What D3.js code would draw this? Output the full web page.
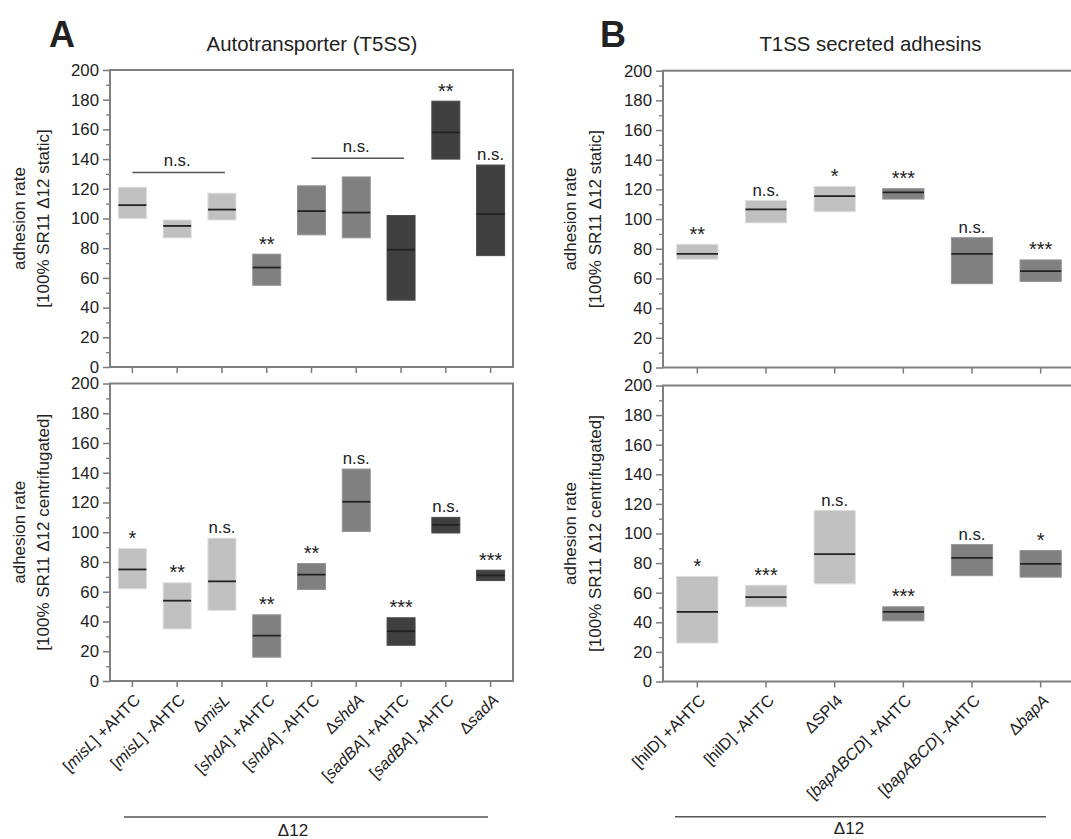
<!DOCTYPE html>
<html><head><meta charset="utf-8">
<script src="https://cdn.jsdelivr.net/npm/d3@7"></script>
<style>
body{margin:0;background:#fff}
text{font-family:"Liberation Sans",Arial,sans-serif;fill:#222}
</style>
</head><body>
<svg id="c" width="1071" height="839"></svg>
<script>
// ---------- data ----------
const catsA = ["[<i>misL</i>] +AHTC","[<i>misL</i>] -AHTC","Δ<i>misL</i>","[<i>shdA</i>] +AHTC","[<i>shdA</i>] -AHTC","Δ<i>shdA</i>","[<i>sadBA</i>] +AHTC","[<i>sadBA</i>] -AHTC","Δ<i>sadA</i>"];
const shadeA = ["light","light","light","mid","mid","mid","dark","dark","dark"];
const staticLoA  = [100, 87, 99, 55, 89, 87, 45, 140, 75];
const staticHiA  = [121, 99, 117, 76, 122, 128, 102, 179, 136];
const staticMedA = [109, 95, 106, 67, 105, 104, 79, 158, 103];
const staticSigA = ["", "", "", "**", "", "", "", "**", "n.s."];
const staticGroupsA = [{from:0, to:2, y:131, label:"n.s."}, {from:4, to:6, y:140.5, label:"n.s."}];
const centLoA  = [62, 35, 47.5, 16, 61.5, 100.5, 24, 99.5, 67.5];
const centHiA  = [89, 66, 96, 44.5, 79, 142.5, 42.5, 110, 74.5];
const centMedA = [75, 54, 67, 30.5, 71.5, 120.5, 33.5, 105, 71];
const centSigA = ["*", "**", "n.s.", "**", "**", "n.s.", "***", "n.s.", "***"];

const catsB = ["[hilD] +AHTC","[hilD] -AHTC","ΔSPI4","[<i>bapABCD</i>] +AHTC","[<i>bapABCD</i>] -AHTC","Δ<i>bapA</i>"];
const shadeB = ["light","light","light","mid","mid","mid"];
const staticLoB  = [73, 97.5, 105, 113.5, 56.5, 58];
const staticHiB  = [83, 112.5, 122, 120.5, 87.5, 72.5];
const staticMedB = [76.5, 106.5, 115.5, 118, 76.5, 65];
const staticSigB = ["**", "n.s.", "*", "***", "n.s.", "***"];
const centLoB  = [26, 50.5, 66, 41, 71.5, 70.5];
const centHiB  = [71, 65, 115.5, 50.5, 92.5, 88.5];
const centMedB = [47, 57, 86, 47, 83.5, 79.5];
const centSigB = ["*", "***", "n.s.", "***", "n.s.", "*"];

const yMajor = [0,20,40,60,80,100,120,140,160,180,200];
const yMinor = [10,30,50,70,90,110,130,150,170,190];
const shadeColor = {light:"#c0c0c0", mid:"#808080", dark:"#404040"};

// ---------- drawing ----------
const svg = d3.select("#c");
const FONT = "Liberation Sans, Arial, sans-serif";

function rich(sel, str){
  str.split(/(<i>.*?<\/i>)/).filter(s=>s.length).forEach(p=>{
    const it = p.startsWith("<i>");
    sel.append("tspan").style("font-style", it ? "italic" : "normal").text(it ? p.slice(3,-4) : p);
  });
}

function drawPlot(o){
  const g = svg.append("g");
  const x = d3.scaleBand().domain(o.cats.map((d,i)=>i)).range([o.x0, o.x1]).padding(0);
  const y = d3.scaleLinear().domain([0,200]).range([o.yb, o.yt]);
  const bw = x.bandwidth()*o.boxFrac;
  const cx = i => x(i) + x.bandwidth()/2;

  // y axis (major + minor)
  const ya = g.append("g").attr("transform",`translate(${o.x0},0)`)
    .call(d3.axisLeft(y).tickValues(yMajor).tickSize(7).tickPadding(4));
  ya.select(".domain").remove();
  ya.selectAll("text").style("font-size","16.8px").style("font-family",FONT).attr("fill","#222");
  ya.selectAll("line").attr("stroke","#7a7a7a").attr("stroke-width",1.5);
  const ym = g.append("g").attr("transform",`translate(${o.x0},0)`)
    .call(d3.axisLeft(y).tickValues(yMinor).tickSize(4).tickFormat(""));
  ym.select(".domain").remove();
  ym.selectAll("line").attr("stroke","#7a7a7a").attr("stroke-width",1.3);

  // x axis ticks
  const xa = g.append("g").attr("transform",`translate(0,${o.yb})`)
    .call(d3.axisBottom(x).tickSize(6).tickFormat(""));
  xa.select(".domain").remove();
  xa.selectAll("line").attr("stroke","#7a7a7a").attr("stroke-width",1.5);

  // frame
  g.append("rect").attr("x",o.x0).attr("y",o.yt).attr("width",o.x1-o.x0).attr("height",o.yb-o.yt)
    .attr("fill","none").attr("stroke","#7f7f7f").attr("stroke-width",2);

  // boxes
  o.cats.forEach((c,i)=>{
    const col = shadeColor[o.shade[i]];
    g.append("rect").attr("x",cx(i)-bw/2).attr("y",y(o.hi[i])).attr("width",bw)
      .attr("height",y(o.lo[i])-y(o.hi[i])).attr("fill",col)
      .attr("stroke",d3.color(col).brighter(0.4)).attr("stroke-width",1);
    g.append("line").attr("x1",cx(i)-bw/2).attr("x2",cx(i)+bw/2)
      .attr("y1",y(o.med[i])).attr("y2",y(o.med[i])).attr("stroke","#222").attr("stroke-width",1.8);
    if(o.sig[i]){
      const ns = o.sig[i]==="n.s.";
      g.append("text").attr("x",cx(i)).attr("y",y(o.hi[i])-(ns?5:3.5)).attr("text-anchor","middle")
        .style("font-size",ns?"16.8px":"20px").text(o.sig[i]);
    }
  });
  (o.groups||[]).forEach(gr=>{
    g.append("line").attr("x1",cx(gr.from)).attr("x2",cx(gr.to)+3)
      .attr("y1",y(gr.y)).attr("y2",y(gr.y)).attr("stroke","#555").attr("stroke-width",1.5);
    g.append("text").attr("x",(cx(gr.from)+cx(gr.to))/2).attr("y",y(gr.y)-6)
      .attr("text-anchor","middle").style("font-size","16.8px").text(gr.label);
  });

  // y axis title
  const ym2 = (o.yt+o.yb)/2;
  o.ytitle.forEach((t,k)=>{
    const tx = o.x0 - o.titleOff[k];
    g.append("text").attr("transform",`translate(${tx},${ym2}) rotate(-90)`)
      .attr("text-anchor","middle").attr("dy","0.35em").style("font-size","17px").text(t);
  });

  // x labels
  if(o.labels){
    o.cats.forEach((c,i)=>{
      const t = g.append("text").attr("transform",`translate(${cx(i)+9},${o.yb+20}) rotate(-45)`)
        .attr("text-anchor","end").style("font-size","16.3px");
      rich(t,c);
    });
  }
  return {x, cx};
}

const yTitleStatic = ["adhesion rate","[100% SR11 Δ12 static]"];
const yTitleCent = ["adhesion rate","[100% SR11 Δ12 centrifugated]"];

// Panel A
drawPlot({cats:catsA, shade:shadeA, lo:staticLoA, hi:staticHiA, med:staticMedA, sig:staticSigA, groups:staticGroupsA,
  x0:110, x1:513, yt:70, yb:367, boxFrac:0.625, ytitle:yTitleStatic, titleOff:[91,67], labels:false});
drawPlot({cats:catsA, shade:shadeA, lo:centLoA, hi:centHiA, med:centMedA, sig:centSigA,
  x0:110, x1:513, yt:383.5, yb:681, boxFrac:0.625, ytitle:yTitleCent, titleOff:[91,67], labels:true});
// Panel B
drawPlot({cats:catsB, shade:shadeB, lo:staticLoB, hi:staticHiB, med:staticMedB, sig:staticSigB,
  x0:663, x1:1075, yt:70.7, yb:367.5, boxFrac:0.6, ytitle:yTitleStatic, titleOff:[93,68], labels:false});
drawPlot({cats:catsB, shade:shadeB, lo:centLoB, hi:centHiB, med:centMedB, sig:centSigB,
  x0:663, x1:1075, yt:385.5, yb:681.5, boxFrac:0.6, ytitle:yTitleCent, titleOff:[93,68], labels:true});

// Panel letters & titles
svg.append("text").attr("x",49).attr("y",47).style("font-size","36px").style("font-weight","bold").attr("fill","#000").text("A");
svg.append("text").attr("x",600).attr("y",47).style("font-size","36px").style("font-weight","bold").attr("fill","#000").text("B");
svg.append("text").attr("x",312).attr("y",51).attr("text-anchor","middle").style("font-size","20.4px").text("Autotransporter (T5SS)");
svg.append("text").attr("x",870.5).attr("y",51).attr("text-anchor","middle").style("font-size","20.4px").text("T1SS secreted adhesins");

// Δ12 brackets
svg.append("line").attr("x1",124).attr("x2",488).attr("y1",817).attr("y2",817).attr("stroke","#555").attr("stroke-width",1.5);
svg.append("text").attr("x",293).attr("y",836).attr("text-anchor","middle").style("font-size","17px").text("Δ12");
svg.append("line").attr("x1",675).attr("x2",1046).attr("y1",816.7).attr("y2",816.7).attr("stroke","#555").attr("stroke-width",1.5);
svg.append("text").attr("x",849).attr("y",834).attr("text-anchor","middle").style("font-size","17px").text("Δ12");
</script>
</body></html>
